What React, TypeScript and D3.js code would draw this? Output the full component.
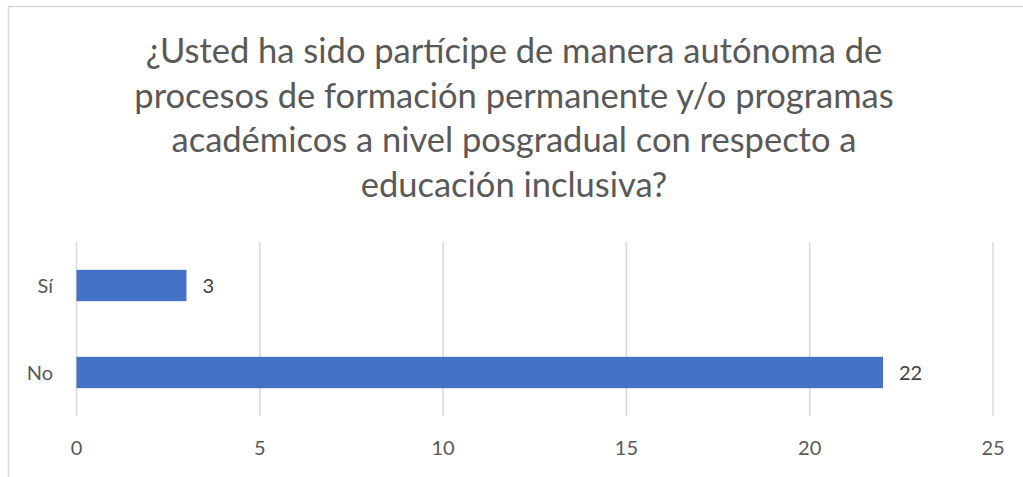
import React, { useEffect, useRef } from 'react';
import * as d3 from 'd3';

const titleLines = [
  '¿Usted ha sido partícipe de manera autónoma de',
  'procesos de formación permanente y/o programas',
  'académicos a nivel posgradual con respecto a',
  'educación inclusiva?',
];
const categories = ['Sí', 'No'];
const values = [3, 22];
const xTicks = [0, 5, 10, 15, 20, 25];

const App = () => {
  const chartRef = useRef<SVGSVGElement>(null);

  useEffect(() => {
    document.body.style.margin = '0';
    const svg = d3.select(chartRef.current);
    svg.selectAll('*').remove();

    const width = 1023;
    const height = 477;
    const font = 'Lato, "Open Sans", sans-serif';

    // chart area border
    svg.append('rect')
      .attr('x', 8.5)
      .attr('y', 6.5)
      .attr('width', width + 10)
      .attr('height', height + 10)
      .attr('fill', '#fff')
      .attr('stroke', '#d9d9d9')
      .attr('stroke-width', 1.5);

    // title
    svg.append('g')
      .selectAll('text')
      .data(titleLines)
      .enter()
      .append('text')
        .attr('x', 514)
        .attr('y', (d, i) => 63 + i * 44.7)
        .attr('text-anchor', 'middle')
        .style('font-family', font)
        .style('font-size', '34.5px')
        .attr('fill', '#595959')
        .text(d => d);

    const x = d3.scaleLinear()
      .domain([0, 25])
      .range([76.5, 993]);

    const y = d3.scaleBand()
      .domain(categories)
      .range([242, 416])
      .paddingInner(0.64)
      .paddingOuter(0.32);

    // gridlines
    svg.append('g')
      .selectAll('line')
      .data(xTicks)
      .enter()
      .append('line')
        .attr('x1', d => x(d))
        .attr('x2', d => x(d))
        .attr('y1', 242)
        .attr('y2', 416)
        .attr('stroke', '#d9d9d9')
        .attr('stroke-width', 1.5);

    // x tick labels
    svg.append('g')
      .selectAll('text')
      .data(xTicks)
      .enter()
      .append('text')
        .attr('x', d => x(d))
        .attr('y', 448)
        .attr('dy', '0.36em')
        .attr('text-anchor', 'middle')
        .style('font-family', font)
        .style('font-size', '20px')
        .attr('fill', '#595959')
        .text(d => d);

    // category labels
    svg.append('g')
      .selectAll('text')
      .data(categories)
      .enter()
      .append('text')
        .attr('x', 53)
        .attr('y', d => (y(d) as number) + y.bandwidth() / 2)
        .attr('dy', '0.36em')
        .attr('text-anchor', 'end')
        .style('font-family', font)
        .style('font-size', '20px')
        .attr('fill', '#595959')
        .text(d => d);

    // bars
    svg.append('g')
      .selectAll('rect')
      .data(values)
      .enter()
      .append('rect')
        .attr('x', x(0))
        .attr('y', (d, i) => y(categories[i]) as number)
        .attr('width', d => x(d) - x(0))
        .attr('height', y.bandwidth())
        .attr('fill', '#4472c4');

    // value labels
    svg.append('g')
      .selectAll('text')
      .data(values)
      .enter()
      .append('text')
        .attr('x', d => x(d) + 16)
        .attr('y', (d, i) => (y(categories[i]) as number) + y.bandwidth() / 2)
        .attr('dy', '0.36em')
        .style('font-family', font)
        .style('font-size', '20px')
        .attr('fill', '#404040')
        .text(d => d);
  }, []);

  return <svg ref={chartRef} width={1023} height={477} style={{ display: 'block' }} />;
};

export default App;
